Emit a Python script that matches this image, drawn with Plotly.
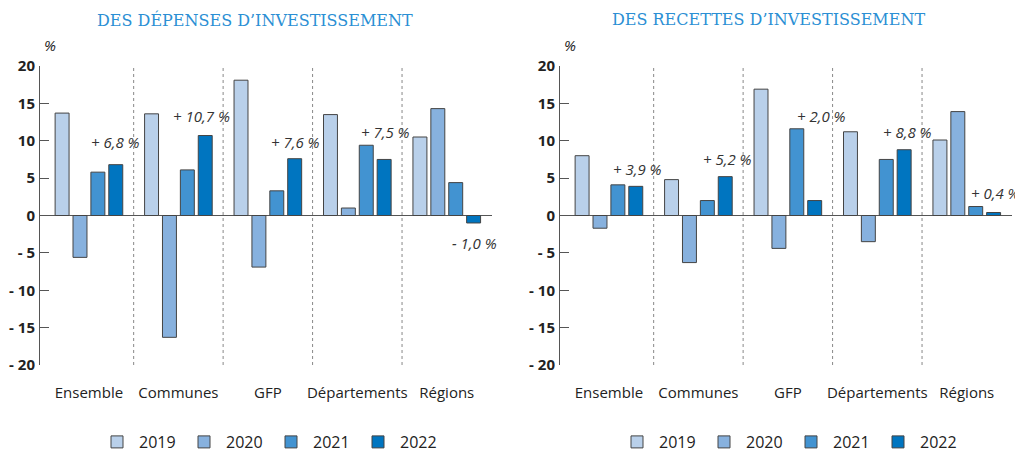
import plotly.graph_objects as go
from plotly.subplots import make_subplots

categories = ["Ensemble", "Communes", "GFP", "Départements", "Régions"]
years = ["2019", "2020", "2021", "2022"]

# growth rates, % (left: spending, right: receipts)
depenses = {
    "2019": [13.7, 13.6, 18.1, 13.5, 10.5],
    "2020": [-5.6, -16.3, -6.9, 1.0, 14.3],
    "2021": [5.8, 6.1, 3.3, 9.4, 4.4],
    "2022": [6.8, 10.7, 7.6, 7.5, -1.0],
}
recettes = {
    "2019": [8.0, 4.8, 16.9, 11.2, 10.1],
    "2020": [-1.7, -6.3, -4.4, -3.5, 13.9],
    "2021": [4.1, 2.0, 11.6, 7.5, 1.2],
    "2022": [3.9, 5.2, 2.0, 8.8, 0.4],
}

y_ticks = [20, 15, 10, 5, 0, -5, -10, -15, -20]
y_ticktext = ["20", "15", "10", "5", "0", "- 5", "- 10", "- 15", "- 20"]

colors = {"2019": "#b9d0ea", "2020": "#87b1de", "2021": "#4293d1", "2022": "#0075c0"}

# label placement (x shift from category centre, y in data units)
dep_label_pos = [(0.30, 9.8), (0.26, 13.3), (0.31, 9.8), (0.32, 11.2), (0.31, -3.7)]
rec_label_pos = [(0.32, 6.2), (0.32, 7.6), (0.38, 13.3), (0.34, 11.2), (0.32, 3.0)]

# the page body has an 8px margin, so the figure is drawn 8px in from the window edge
W, H, OFF = 1015, 448, 8


def px(x):
    return (x - OFF) / W


def py(y):
    return 1 - (y - OFF) / H


def fmt(v):
    sign = "+ " if v >= 0 else "- "
    return sign + f"{abs(v):.1f}".replace(".", ",") + " %"


fig = make_subplots(rows=1, cols=2)

for col, data, leg in [(1, depenses, "legend"), (2, recettes, "legend2")]:
    for yr in years:
        fig.add_trace(
            go.Bar(x=categories, y=data[yr], name=yr, marker_color=colors[yr],
                   marker_line=dict(color="#444444", width=1), legend=leg),
            row=1, col=col,
        )

axis_font = dict(family="Open Sans", size=15, color="#222222", weight="bold")
dom_y = [py(365), py(66)]
for col, dom in [(1, [px(40), px(491.5)]), (2, [px(560), px(1011.5)])]:
    fig.update_xaxes(domain=dom, range=[-0.547, 4.5], showline=False, showgrid=False,
                     zeroline=False, ticks="", ticklabelstandoff=17, automargin=False,
                     tickfont=dict(family="Open Sans", size=15, color="#222222"),
                     row=1, col=col)
    fig.update_yaxes(domain=dom_y, range=[-20, 20], tickvals=y_ticks, ticktext=y_ticktext,
                     showgrid=False, showline=True, linecolor="#555555", linewidth=1,
                     ticks="inside", ticklen=9, tickcolor="#555555", automargin=False,
                     zeroline=True, zerolinecolor="#555555", zerolinewidth=1,
                     ticklabelstandoff=1, tickfont=axis_font, row=1, col=col)

shapes = []
annotations = []
for xref, yref, data, pos in [("x", "y", depenses, dep_label_pos), ("x2", "y2", recettes, rec_label_pos)]:
    for i in range(len(categories) - 1):
        shapes.append(dict(type="line", xref=xref, yref=yref, x0=i + 0.5, x1=i + 0.5,
                           y0=-20, y1=20, line=dict(color="#888888", width=1, dash="dot")))
    for i, (dx, ly) in enumerate(pos):
        annotations.append(dict(xref=xref, yref=yref, x=i + dx, y=ly, text=fmt(data["2022"][i]),
                                showarrow=False,
                                font=dict(family="Open Sans", size=15, color="#333333", style="italic")))

for xc, txt in [(255, "DES DÉPENSES D’INVESTISSEMENT"), (768, "DES RECETTES D’INVESTISSEMENT")]:
    annotations.append(dict(xref="paper", yref="paper", x=px(xc), y=1, text=txt,
                            showarrow=False, xanchor="center", yanchor="top",
                            font=dict(family="DejaVu Serif", size=16, color="#2b8fd4")))
for xc in [50, 570]:
    annotations.append(dict(xref="paper", yref="paper", x=px(xc), y=py(45), text="%",
                            showarrow=False, xanchor="center", yanchor="middle",
                            font=dict(family="Open Sans", size=15, color="#222222", style="italic")))

legend_style = dict(orientation="h", xanchor="left", yanchor="middle", y=py(442),
                    font=dict(family="Open Sans", size=16, color="#222222"),
                    itemwidth=34, entrywidth=38, entrywidthmode="pixels",
                    bgcolor="rgba(0,0,0,0)")

fig.update_layout(
    width=W, height=H,
    margin=dict(l=0, r=0, t=0, b=0, autoexpand=False),
    plot_bgcolor="white", paper_bgcolor="white",
    barmode="group", bargap=0.2, bargroupgap=0.22,
    showlegend=True,
    legend=dict(x=px(95), **legend_style),
    legend2=dict(x=px(615), **legend_style),
    shapes=shapes, annotations=annotations,
)

fig.write_html("out.html")
